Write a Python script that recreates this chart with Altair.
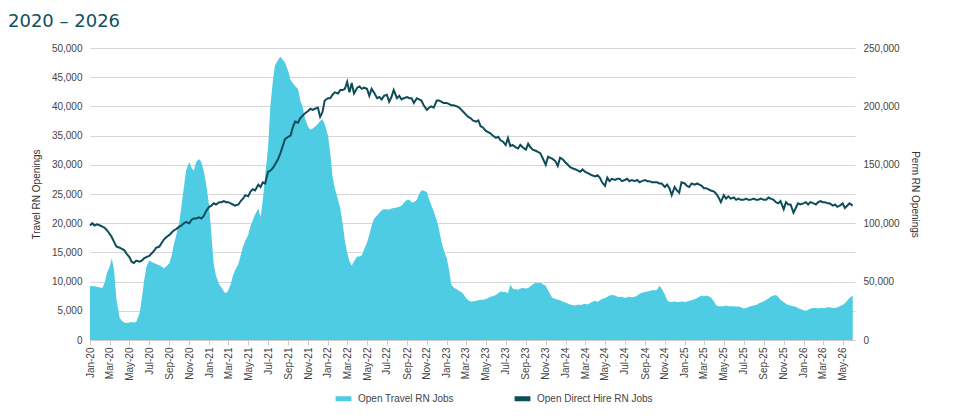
import pandas as pd
import altair as alt

# four readings per month, Jan-2020 .. Jun-2026 (thousands)
travel = [
    9.3, 9.2, 9.2, 9.1, 9.0, 8.9, 9.8, 11.5, 12.5, 14, 12, 7, 3.8, 3.3, 3.0, 2.9,
    3.0, 3.1, 3.0, 3.1, 4.5, 7, 10, 12.5, 13.6, 13.4, 13.2, 13.0, 12.8, 12.6, 12.3, 12.6,
    13.2, 14.5, 16.5, 18, 20, 23, 26, 29, 30.5, 29.5, 29, 30.5, 31, 30.5, 29, 27,
    23, 18, 13, 11, 9.5, 9, 8.3, 8, 8.5, 9.5, 11, 12, 13, 14.5, 16, 17,
    18, 19.5, 20.5, 21.5, 22.5, 21, 24, 28, 33, 40, 44, 47, 48, 48.5, 48, 47.5,
    46, 44.5, 44, 43.5, 43, 41, 40, 38, 36.5, 36, 36.2, 36.5, 37, 37.5, 37.8, 37,
    35, 32, 28, 26, 24, 22.5, 20, 17, 15, 13.5, 12.7, 13.5, 14.3, 14.3, 14.5, 15.5,
    16.7, 18, 19.5, 20.7, 21.3, 21.8, 22.2, 22.4, 22.4, 22.3, 22.5, 22.6, 22.7, 22.8, 23, 23.5,
    24, 24, 23.6, 23.6, 24, 25, 25.6, 25.6, 25.3, 24, 23, 22, 20.5, 19, 17, 15.5,
    14, 12, 9.5, 9, 8.7, 8.4, 8.2, 7.8, 7.2, 6.8, 6.6, 6.6, 6.7, 6.8, 6.9, 6.9,
    7, 7.2, 7.4, 7.5, 7.7, 8, 8.3, 8.2, 8.2, 8, 9.5, 8.8, 8.7, 8.6, 8.8, 8.9,
    8.8, 8.9, 9.2, 9.5, 9.8, 9.7, 9.8, 9.6, 9.3, 8.5, 7.8, 7.2, 7, 6.9, 6.8, 6.6,
    6.4, 6.2, 6.1, 6, 5.9, 6.1, 6, 6.1, 6.2, 6.1, 6.3, 6.5, 6.7, 6.5, 6.8, 7,
    7.2, 7.4, 7.6, 7.7, 7.6, 7.4, 7.3, 7.4, 7.2, 7.3, 7.4, 7.3, 7.4, 7.6, 7.9, 8.1,
    8.2, 8.3, 8.4, 8.5, 8.5, 8.6, 9.3, 8.8, 7.8, 6.8, 6.5, 6.5, 6.6, 6.5, 6.5, 6.6,
    6.5, 6.6, 6.7, 6.8, 7, 7.2, 7.4, 7.6, 7.5, 7.6, 7.5, 7.3, 6.6, 5.9, 5.8, 5.8,
    5.8, 5.9, 5.8, 5.8, 5.8, 5.7, 5.8, 5.6, 5.4, 5.5, 5.6, 5.8, 5.9, 6, 6.2, 6.4,
    6.6, 6.9, 7.1, 7.4, 7.6, 7.7, 7.4, 6.9, 6.5, 6.2, 6, 5.9, 5.8, 5.7, 5.5, 5.3,
    5.1, 5, 5.2, 5.4, 5.5, 5.5, 5.4, 5.5, 5.5, 5.5, 5.6, 5.6, 5.5, 5.5, 5.6, 5.8,
    6, 6.3, 6.7, 7.2, 7.6,
]
perm = [
    98, 100, 98, 99, 98, 97, 96, 94, 91, 88, 84, 80, 79, 78, 77, 74,
    71, 67, 66, 68, 67, 68, 70, 71, 72, 74, 76, 79, 80, 83, 86, 88,
    90, 92, 94, 95, 97, 98, 100, 101, 100, 103, 104, 104, 105, 104, 106, 110,
    114, 115, 117, 116, 118, 118, 119, 118, 118, 117, 116, 115, 116, 119, 121, 124,
    123, 127, 129, 128, 133, 131, 135, 134, 144, 145, 147, 150, 155, 160, 166, 172,
    174, 175, 182, 187, 186, 190, 192, 194, 196, 198, 197, 198, 199, 191, 195, 205,
    207, 207, 210, 212, 211, 214, 214, 215, 221, 212, 220, 211, 216, 217, 215, 216,
    215, 209, 215, 212, 207, 208, 206, 209, 210, 204, 208, 214, 207, 209, 206, 207,
    208, 207, 207, 203, 207, 206, 205, 201, 197, 199, 200, 199, 205, 205, 204, 203,
    203, 202, 201, 201, 200, 199, 197, 195, 193, 191, 190, 188, 187, 188, 183, 182,
    179, 178, 177, 175, 173, 174, 171, 170, 167, 173, 166, 167, 165, 164, 167, 165,
    163, 168, 165, 163, 162, 161, 160, 156, 150, 157, 156, 155, 153, 149, 156, 155,
    152, 150, 148, 147, 146, 145, 144, 146, 144, 143, 142, 141, 140, 141, 139, 135,
    132, 139, 136, 138, 137, 138, 138, 136, 137, 138, 136, 137, 136, 137, 135, 136,
    137, 136, 136, 135, 135, 135, 134, 134, 131, 133, 130, 124, 131, 128, 126, 135,
    134, 132, 131, 134, 133, 134, 133, 132, 130, 130, 129, 128, 127, 125, 122, 118,
    124, 121, 123, 121, 122, 120, 121, 120, 120, 121, 120, 120, 121, 120, 120, 121,
    120, 120, 122, 121, 120, 118, 117, 119, 112, 118, 116, 116, 109, 113, 117, 116,
    117, 118, 116, 118, 117, 116, 118, 119, 118, 118, 117, 117, 115, 116, 114, 115,
    117, 113, 115, 117, 115,
]

dates = []
for i in range(len(travel)):
    month = pd.Timestamp("2020-01-01") + pd.DateOffset(months=i // 4)
    dates.append(month + pd.Timedelta(days=7 * (i % 4)))

df = pd.DataFrame({
    "date": dates,
    "travel": [v * 1000 for v in travel],
    "perm": [v * 1000 for v in perm],
})

TRAVEL_NAME = "Open Travel RN Jobs"
PERM_NAME = "Open Direct Hire RN Jobs"
color = alt.Color(
    "series:N",
    scale=alt.Scale(domain=[TRAVEL_NAME, PERM_NAME], range=["#4ecce3", "#0d4d5a"]),
    legend=alt.Legend(orient="none", legendX=243, legendY=340, direction="horizontal", title=None,
                      labelFontSize=10, labelColor="#444", symbolType="stroke", symbolStrokeWidth=5,
                      symbolSize=250, columnPadding=50),
)

x = alt.X(
    "date:T", title=None,
    scale=alt.Scale(domain=["2020-01-01", "2026-06-08"], nice=False),
    axis=alt.Axis(format="%b-%y", labelAngle=-90, tickCount={"interval": "month", "step": 2},
                  grid=False, labelColor="#444", labelFontSize=10, domainColor="#ccc", tickColor="#ccc"),
)

area = alt.Chart(df).transform_calculate(series=f"'{TRAVEL_NAME}'").mark_area(
    color="#4ecce3"
).encode(
    x=x,
    y=alt.Y("travel:Q", title="Travel RN Openings", scale=alt.Scale(domain=[0, 50000]),
            axis=alt.Axis(values=list(range(0, 50001, 5000)), format=",.0f", grid=True, gridColor="#d6d6d6",
                          domain=False, ticks=False, labelPadding=8, titlePadding=10,
                          labelColor="#444", titleColor="#333", titleFontWeight="normal", titleFontSize=10)),
    color=color,
)

line = alt.Chart(df).transform_calculate(series=f"'{PERM_NAME}'").mark_line(
    strokeWidth=2
).encode(
    x=x,
    y=alt.Y("perm:Q", title="Perm RN Openings", scale=alt.Scale(domain=[0, 250000]),
            axis=alt.Axis(orient="right", values=list(range(0, 250001, 50000)), format=",.0f", grid=False,
                          domain=False, ticks=False, labelPadding=8, titlePadding=10,
                          labelColor="#444", titleColor="#333", titleFontWeight="normal", titleFontSize=10,
                          titleAngle=90)),
    color=color,
)

chart = alt.layer(area, line).resolve_scale(y="independent").properties(
    width=765, height=292,
    padding={"left": 0, "top": 5, "right": 5, "bottom": 5},
    title=alt.Title("2020 \u2013 2026", anchor="start", frame="group", dx=-82, fontSize=18, fontWeight="normal",
                    color="#12505e", font="DejaVu Sans", offset=12),
).configure_view(stroke=None).configure_axis(labelFont="Liberation Sans", titleFont="Liberation Sans")

chart.save("out.html", embed_options={"renderer": "svg", "actions": False})
